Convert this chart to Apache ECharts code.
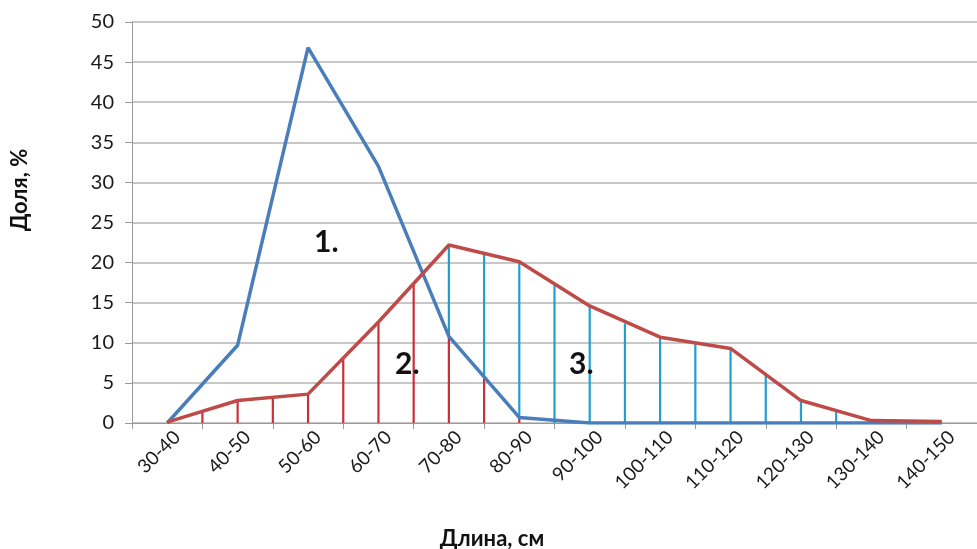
<!DOCTYPE html>
<html>
<head>
<meta charset="utf-8">
<script src="https://cdn.jsdelivr.net/npm/echarts@6/dist/echarts.min.js"></script>
<style>
  html, body { margin: 0; padding: 0; background: #fff; }
  #chart { width: 977px; height: 549px; }
</style>
</head>
<body>
<div id="chart"></div>
<script>
// Length classes, cm
const categories = ['30-40', '40-50', '50-60', '60-70', '70-80', '80-90', '90-100',
  '100-110', '110-120', '120-130', '130-140', '140-150'];
// Share of individuals per length class, %
const series1 = [0, 9.7, 46.8, 32.0, 10.8, 0.7, 0, 0, 0, 0, 0, 0];
const series2 = [0.1, 2.8, 3.6, 12.6, 22.2, 20.1, 14.6, 10.7, 9.3, 2.8, 0.3, 0.2];
const yTicks = { min: 0, max: 50, step: 5 };

// Hatching under curve 2: position (in class units from the axis origin),
// top of the stroke and the level where the red part gives way to blue
const hatchPos = [1, 1.5, 2, 2.5, 3, 3.5, 4, 4.5, 5, 5.5, 6, 6.5, 7, 7.5, 8, 8.5, 9, 9.5, 10];
const hatchTop = [1.5, 2.8, 3.2, 3.6, 8.2, 12.6, 17.4, 22.2, 21.0, 20.1, 17.2, 14.6, 12.4, 10.7, 9.9, 9.3, 6.2, 2.8, 1.6];
const hatchSplit = [1.5, 2.8, 3.2, 3.6, 8.2, 12.6, 17.4, 10.8, 5.5, 0.7, 0, 0, 0, 0, 0, 0, 0, 0, 0];

const FONT = 'Lato, "Noto Sans", sans-serif';
const BLUE_LINE = '#4a7ebb';
const RED_LINE = '#be4b48';
const RED_HATCH = '#c8303a';
const BLUE_HATCH = '#1f9fd2';
const GRID = '#b4b4b4';

const hatchData = hatchPos.map((p, i) => [p, hatchTop[i], hatchSplit[i]]);

const chart = echarts.init(document.getElementById('chart'), null, { renderer: 'canvas' });
chart.setOption({
  animation: false,
  backgroundColor: '#fff',
  grid: { left: 132, right: -7, top: 22, bottom: 126, containLabel: false },
  xAxis: [
    {
      type: 'category',
      data: categories,
      boundaryGap: true,
      axisLine: { show: true, lineStyle: { color: '#9a9a9a', width: 1 } },
      axisTick: { show: true, interval: 0, length: 6, lineStyle: { color: '#9a9a9a' } },
      axisLabel: {
        interval: 0, rotate: 45, margin: 21,
        padding: [0, -14, 0, 0],
        fontFamily: FONT, fontSize: 19, color: '#1a1a1a'
      },
      splitLine: { show: false }
    },
    {
      type: 'value',
      min: 0, max: categories.length,
      show: false
    }
  ],
  yAxis: {
    type: 'value',
    min: yTicks.min, max: yTicks.max, interval: yTicks.step,
    axisLine: { show: true, lineStyle: { color: '#9a9a9a', width: 1 } },
    axisTick: { show: true, length: 7, lineStyle: { color: '#9a9a9a' } },
    axisLabel: { fontFamily: FONT, fontSize: 20, color: '#1a1a1a', margin: 18 },
    splitLine: { show: true, lineStyle: { color: GRID, width: 1.5 } }
  },
  series: [
    {
      name: 'hatch',
      type: 'custom',
      xAxisIndex: 1,
      yAxisIndex: 0,
      z: 1,
      data: hatchData,
      renderItem: function (params, api) {
        const x = api.value(0), top = api.value(1), split = api.value(2);
        const p0 = api.coord([x, 0]);
        const p1 = api.coord([x, split]);
        const p2 = api.coord([x, top]);
        const children = [];
        if (split > 0) {
          children.push({
            type: 'line',
            shape: { x1: p0[0], y1: p0[1], x2: p1[0], y2: p1[1] },
            style: { stroke: RED_HATCH, lineWidth: 2.2 }
          });
        }
        if (top > split) {
          children.push({
            type: 'line',
            shape: { x1: p1[0], y1: p1[1], x2: p2[0], y2: p2[1] },
            style: { stroke: BLUE_HATCH, lineWidth: 2.2 }
          });
        }
        return { type: 'group', children: children };
      }
    },
    {
      name: '1',
      type: 'line',
      data: series1,
      z: 3,
      symbol: 'none',
      lineStyle: { color: BLUE_LINE, width: 3.5 }
    },
    {
      name: '2',
      type: 'line',
      data: series2,
      z: 4,
      symbol: 'none',
      lineStyle: { color: RED_LINE, width: 3.5 }
    }
  ],
  graphic: [
    { type: 'text', left: 314, top: 227, z: 10,
      style: { text: '1.', font: 'bold 30px ' + FONT, fill: '#111' } },
    { type: 'text', left: 395, top: 349, z: 10,
      style: { text: '2.', font: 'bold 30px ' + FONT, fill: '#111' } },
    { type: 'text', left: 569, top: 349, z: 10,
      style: { text: '3.', font: 'bold 30px ' + FONT, fill: '#111' } },
    { type: 'text', x: 20, y: 190, rotation: Math.PI / 2, z: 10,
      style: { text: 'Доля, %', font: 'bold 22px ' + FONT, fill: '#111',
               align: 'center', verticalAlign: 'middle' } },
    { type: 'text', x: 492, y: 539, z: 10,
      style: { text: 'Длина, см', font: 'bold 22px ' + FONT, fill: '#111',
               align: 'center', verticalAlign: 'middle' } }
  ]
});
</script>
</body>
</html>
